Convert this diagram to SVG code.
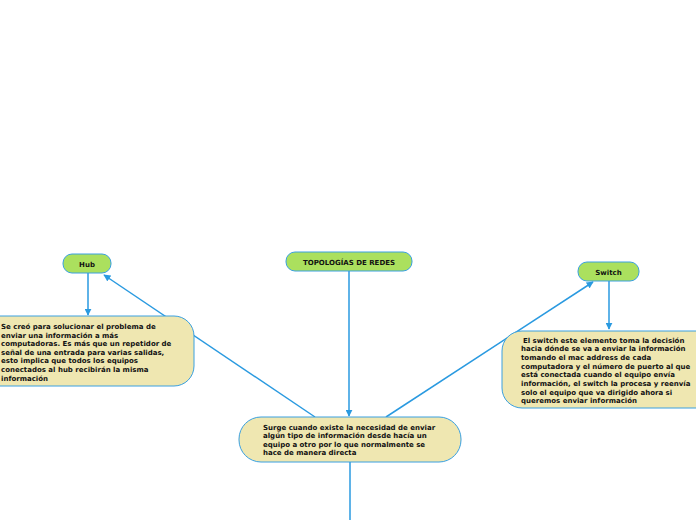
<svg xmlns="http://www.w3.org/2000/svg" width="696" height="520" viewBox="0 0 696 520">
<defs>
<marker id="arr" viewBox="0 0 10 10" refX="9" refY="5" markerWidth="7" markerHeight="7" orient="auto" markerUnits="userSpaceOnUse">
<path d="M0,0 L10,5 L0,10 Z" fill="#2a9ae0"/>
</marker>
<style>
.ln{stroke:#2a9ae0;stroke-width:1.5;fill:none}
.main{fill:#abe05e;stroke:#3aa0e0;stroke-width:1}
.box{fill:#efe7b1;stroke:#3aa0e0;stroke-width:1}
.t{font-family:"DejaVu Sans",Verdana,sans-serif;font-weight:bold;font-size:7px;fill:#111}
.tc{text-anchor:middle}
</style>
</defs>
<rect width="696" height="520" fill="#fff"/>
<g id="connectors">
<line class="ln" x1="88" y1="273" x2="88" y2="315" marker-end="url(#arr)"/>
<line class="ln" x1="315" y1="417" x2="104" y2="275" marker-end="url(#arr)"/>
<line class="ln" x1="349" y1="271" x2="349" y2="416" marker-end="url(#arr)"/>
<line class="ln" x1="386" y1="417" x2="593" y2="282" marker-end="url(#arr)"/>
<line class="ln" x1="609" y1="281" x2="609" y2="329" marker-end="url(#arr)"/>
<line class="ln" x1="350" y1="462" x2="350" y2="520"/>
</g>
<g id="hub">
<rect class="main" x="63" y="254" width="48" height="19" rx="9"/>
<text class="t tc" x="87" y="266.5">Hub</text>
</g>
<g id="topologias">
<rect class="main" x="286" y="252" width="126" height="19" rx="9"/>
<text class="t tc" x="349" y="264.5">TOPOLOGÍAS DE REDES</text>
</g>
<g id="switch">
<rect class="main" x="578" y="262" width="61" height="19" rx="9"/>
<text class="t tc" x="608.5" y="274.5">Switch</text>
</g>
<g id="hub-desc">
<rect class="box" x="-20" y="316" width="214" height="70" rx="20"/>
<text class="t" x="1" y="329">Se creó para solucionar el problema de</text>
<text class="t" x="1" y="337.6">enviar una información a más</text>
<text class="t" x="1" y="346.2">computadoras. Es más que un repetidor de</text>
<text class="t" x="1" y="354.8">señal de una entrada para varias salidas,</text>
<text class="t" x="1" y="363.4">esto implica que todos los equipos</text>
<text class="t" x="1" y="372">conectados al hub recibirán la misma</text>
<text class="t" x="1" y="380.6">información</text>
</g>
<g id="switch-desc">
<rect class="box" x="502" y="331" width="214" height="77" rx="20"/>
<text class="t" x="523" y="342.5"> El switch este elemento toma la decisión</text>
<text class="t" x="521" y="351.2">hacia dónde se va a enviar la información</text>
<text class="t" x="521" y="359.9">tomando el mac address de cada</text>
<text class="t" x="521" y="368.6">computadora y el número de puerto al que</text>
<text class="t" x="521" y="377.3">está conectada cuando el equipo envía</text>
<text class="t" x="521" y="386">información, el switch la procesa y reenvía</text>
<text class="t" x="521" y="394.7">solo el equipo que va dirigido ahora si</text>
<text class="t" x="521" y="403.4">queremos enviar información</text>
</g>
<g id="center">
<rect class="box" x="239" y="417" width="222" height="45" rx="22"/>
<text class="t" x="263" y="429.5">Surge cuando existe la necesidad de enviar</text>
<text class="t" x="263" y="438.1">algún tipo de información desde hacía un</text>
<text class="t" x="263" y="446.7">equipo a otro por lo que normalmente se</text>
<text class="t" x="263" y="455.3">hace de manera directa</text>
</g>
</svg>
